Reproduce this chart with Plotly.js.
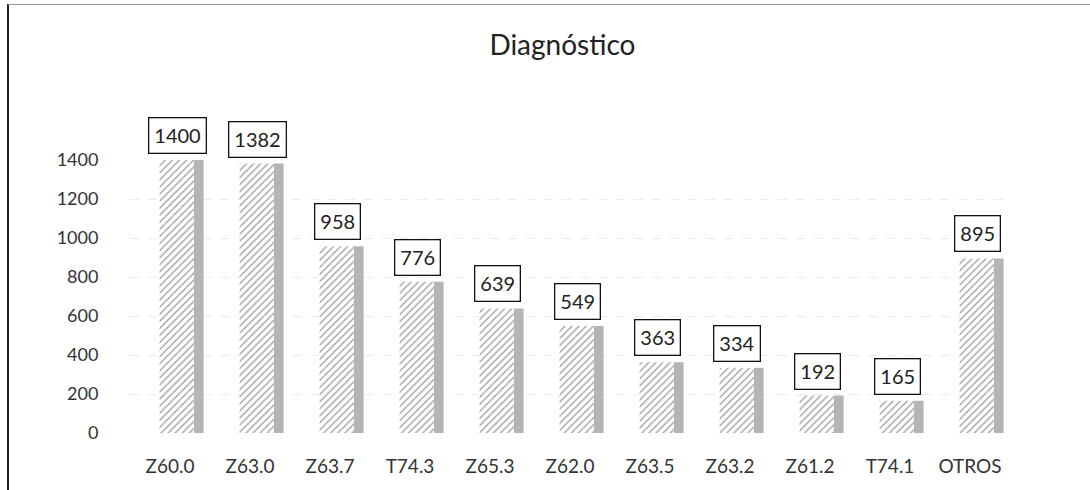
<!DOCTYPE html>
<html>
<head>
<meta charset="utf-8">
<script src="https://cdn.plot.ly/plotly-3.0.1.min.js"></script>
<style>
  html, body { margin: 0; padding: 0; background: #fff; }
  #frame { position: absolute; left: 7px; top: 4px; width: 1083px; height: 486px;
           border-left: 2px solid #222; border-top: 1px solid #999; box-sizing: border-box; }
  #chart { position: absolute; left: 0; top: 0; width: 1090px; height: 490px; }
</style>
</head>
<body>
<div id="chart"></div>
<div id="frame"></div>
<script>
const categories = ["Z60.0", "Z63.0", "Z63.7", "T74.3", "Z65.3", "Z62.0", "Z63.5", "Z63.2", "Z61.2", "T74.1", "OTROS"];
const values = [1400, 1382, 958, 776, 639, 549, 363, 334, 192, 165, 895];
const yTicks = [0, 200, 400, 600, 800, 1000, 1200, 1400];

const font = "Lato, 'Open Sans', sans-serif";

const front = {
  type: "bar",
  x: categories,
  y: values,
  width: 0.43,
  offset: -0.13,
  marker: {
    color: "white",
    line: { width: 0 },
    pattern: { shape: "/", fgcolor: "#9a9a9a", bgcolor: "#ffffff", size: 5, solidity: 0.25 }
  },
  hoverinfo: "x+y",
  showlegend: false
};
const side = {
  type: "bar",
  x: categories,
  y: values,
  width: 0.12,
  offset: 0.3,
  marker: {
    color: "#c4c4c4",
    line: { width: 0 },
    pattern: { shape: ".", fgcolor: "#909090", bgcolor: "#cccccc", size: 2, solidity: 0.4 }
  },
  hoverinfo: "skip",
  showlegend: false
};

const annotations = categories.map((c, i) => ({
  x: c, y: values[i], xref: "x", yref: "y",
  text: String(values[i]),
  showarrow: false,
  yanchor: "bottom",
  yshift: 6,
  xshift: 7,
  bgcolor: "white",
  bordercolor: "#111",
  borderwidth: 1.3,
  borderpad: 5,
  font: { family: font, size: 20, color: "#222" }
}));

const layout = {
  width: 1090, height: 490,
  paper_bgcolor: "white", plot_bgcolor: "white",
  margin: { l: 130, r: 80, t: 160, b: 57 },
  barmode: "overlay",
  title: { text: "Diagnóstico", x: 0.516, xanchor: "center", y: 0.908, yanchor: "middle",
           font: { family: font, size: 28, color: "#222" } },
  xaxis: {
    type: "category", range: [-0.5, 10.5],
    showgrid: false, zeroline: false, showline: false,
    ticks: "outside", ticklen: 16, tickcolor: "rgba(0,0,0,0)",
    tickfont: { family: font, size: 19, color: "#333" }
  },
  yaxis: {
    range: [0, 1400], tickvals: yTicks, ticktext: yTicks.map(String),
    showgrid: true, gridcolor: "#ececec", griddash: "dash", gridwidth: 1,
    zeroline: false, showline: false,
    ticks: "outside", ticklen: 27, tickcolor: "rgba(0,0,0,0)",
    tickfont: { family: font, size: 18, color: "#333" }
  },
  annotations: annotations
};

Plotly.newPlot("chart", [front, side], layout, { displayModeBar: false, staticPlot: true });
</script>
</body>
</html>
